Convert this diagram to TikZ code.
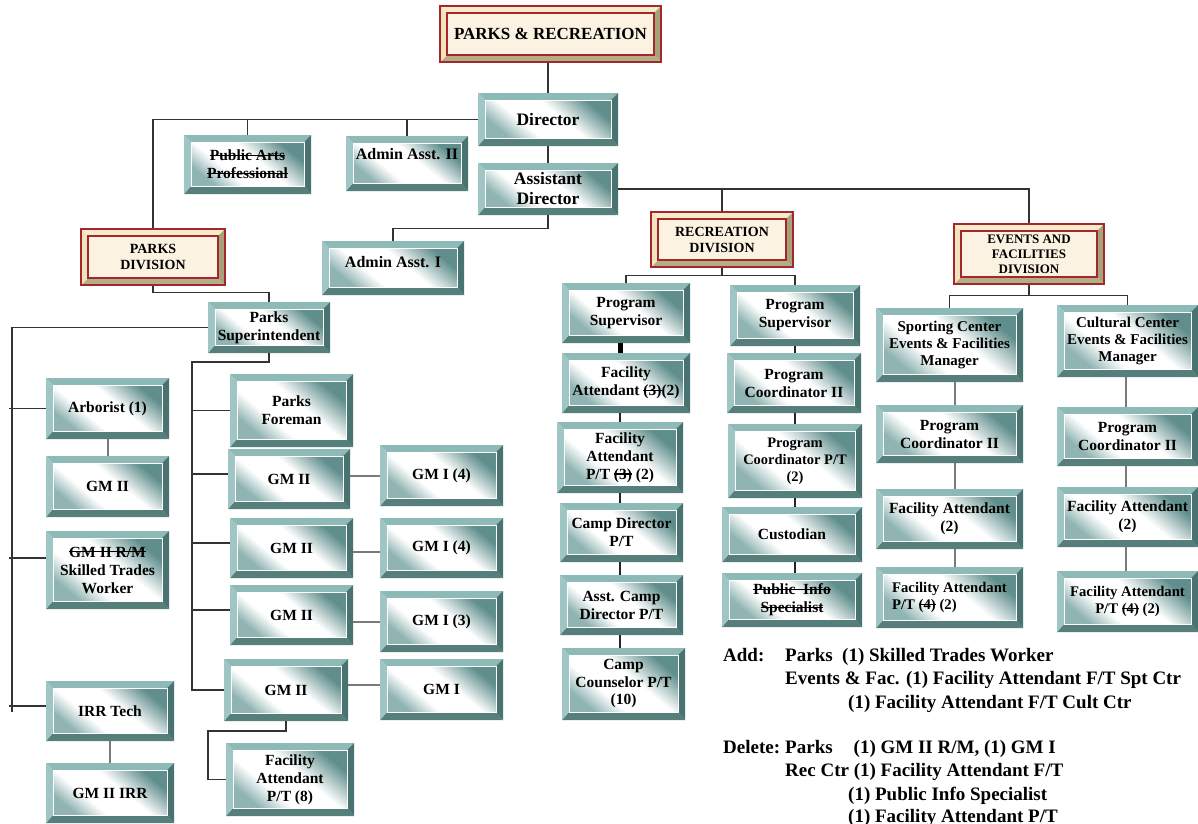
\documentclass[tikz,border=0pt]{standalone}
\usepackage{fontspec}
\setmainfont{Liberation Serif}
\usetikzlibrary{calc}

% struck-through text
\newsavebox\strkbox
\newcommand\strk[1]{\sbox\strkbox{#1}\rlap{\rule[0.3em]{\wd\strkbox}{1.1pt}}\usebox\strkbox}

% bevelled staff boxes
\definecolor{bvTopC}{HTML}{8DB9B7}
\definecolor{bvLeftC}{HTML}{9FC6C4}
\definecolor{bvRightC}{HTML}{497370}
\definecolor{bvBotC}{HTML}{567F7C}
\definecolor{faceDark}{HTML}{5F8E8C}
\definecolor{faceLight}{HTML}{8FB4B2}
% division title boxes
\definecolor{dvRed}{HTML}{A3272B}
\definecolor{dvTop}{HTML}{F7EBCB}
\definecolor{dvLeft}{HTML}{F2E3BD}
\definecolor{dvRight}{HTML}{A6A37C}
\definecolor{dvBot}{HTML}{B4AE88}
\definecolor{dvFace}{HTML}{FCF2E1}
\definecolor{lineC}{HTML}{333333}
\definecolor{stubC}{HTML}{7A7A7A}

% face of a staff box: teal corners, broad white middle
\pgfdeclareverticalshading{staffface}{100bp}{%
  color(0bp)=(faceLight); color(25bp)=(faceLight);
  color(38bp)=(white); color(56bp)=(white);
  color(75bp)=(faceDark); color(100bp)=(faceDark)}

\newcommand\fs[2]{\fontsize{#1}{#2}\selectfont\bfseries}

% corner coordinates of the current node and of its inner face
\newcommand\bevelcorners[2]{%
  \coordinate (bSW) at (path picture bounding box.south west);
  \coordinate (bNE) at (path picture bounding box.north east);
  \coordinate (bNW) at (bSW |- bNE);
  \coordinate (bSE) at (bNE |- bSW);
  \coordinate (iSW) at ([shift={(#1,#2)}]bSW);
  \coordinate (iNE) at ([shift={(-#1,-#1)}]bNE);
  \coordinate (iNW) at (iSW |- iNE);
  \coordinate (iSE) at (iNE |- iSW);
}
\newcommand\bevelfaces[4]{%
  \fill[#1] (bNW) -- (bNE) -- (iNE) -- (iNW) -- cycle;
  \fill[#4] (bSW) -- (bSE) -- (iSE) -- (iSW) -- cycle;
  \fill[#2] (bSW) -- (bNW) -- (iNW) -- (iSW) -- cycle;
  \fill[#3] (bSE) -- (bNE) -- (iNE) -- (iSE) -- cycle;
}
\newcommand\staffbevel{%
  \bevelcorners{7pt}{8pt}%
  \bevelfaces{bvTopC}{bvLeftC}{bvRightC}{bvBotC}%
  \shade[shading=staffface, shading angle=-40] (iSW) rectangle (iNE);
  \draw[white, line width=0.9pt] (iSW) rectangle (iNE);
}
\newcommand\divbevel{%
  \bevelcorners{7pt}{7pt}%
  \bevelfaces{dvTop}{dvLeft}{dvRight}{dvBot}%
  \fill[dvFace] (iSW) rectangle (iNE);
  \draw[dvRed, line width=1.3pt] (iSW) rectangle (iNE);
}

\tikzset{
  staff/.style={rectangle, inner sep=0pt, align=center, font=\fs{15.5}{18},
                path picture={\staffbevel}},
  divbox/.style={rectangle, inner sep=0pt, align=center, font=\fs{14}{16},
                 draw=dvRed, line width=1.3pt, path picture={\divbevel}},
  sz/.style 2 args={minimum width=#1pt, minimum height=#2pt},
  conn/.style={draw=lineC, line width=1.3pt},
  stub/.style={draw=stubC, line width=2pt},
  thinstub/.style={draw=black!85, line width=1.3pt},
  note/.style={anchor=base west, inner sep=0pt, font=\fs{19}{22}},
}

\begin{document}
\begin{tikzpicture}[x=1pt,y=-1pt]
\useasboundingbox[fill=white] (0,0) rectangle (1198,823);

% ---------- top of the department ----------
\node[divbox, sz={221}{56}, font=\fs{17}{20}] (title) at (550.5,34) {PARKS \& RECREATION};
\node[staff, sz={140}{53}, font=\fs{17.5}{20}] (dir) at (548,119.5) {Director};
\node[staff, sz={127}{59}] (pap) at (247.5,164.5) {\strk{Public Arts}\\\strk{Professional}};
\node[staff, sz={122}{55}, font=\fs{16}{18}] (aa2) at (407,163.5) {Admin Asst. II\\[2pt]\mbox{}};
\node[staff, sz={140}{52}, font=\fs{17.5}{20}] (ad) at (548,189) {Assistant\\Director};
\node[staff, sz={142}{54}, font=\fs{16}{18}] (aa1) at (393,268) {Admin Asst. I\\[-6pt]\mbox{}};

\node[divbox, sz={144}{56}] (pdiv) at (153,257) {PARKS\\DIVISION};
\node[divbox, sz={142}{55}] (rdiv) at (722,239.5) {RECREATION\\DIVISION};
\node[divbox, sz={150}{60}, font=\fs{13}{15}] (edv) at (1029,254) {EVENTS AND\\FACILITIES\\DIVISION};

% ---------- parks division ----------
\node[staff, sz={122}{51}] (psup) at (269,327.5) {Parks\\Superintendent};

\node[staff, sz={123}{61}] (arb) at (107.5,408.5) {Arborist (1)};
\node[staff, sz={123}{61}] (gm2a) at (107.5,486.5) {GM II};
\node[staff, sz={123}{78}] (stw) at (107.5,570) {\strk{GM II R/M}\\Skilled Trades\\Worker};
\node[staff, sz={128}{60}] (irr) at (110,711) {IRR Tech};
\node[staff, sz={128}{60}] (gmirr) at (110,793) {GM II IRR};

\node[staff, sz={123}{73}] (pf) at (291.5,410.5) {Parks\\Foreman};
\node[staff, sz={122}{60}] (g1) at (289,479) {GM II};
\node[staff, sz={123}{61}] (gi1) at (441.5,475.5) {GM I (4)};
\node[staff, sz={123}{60}] (g2) at (291.5,548) {GM II};
\node[staff, sz={123}{60}] (gi2) at (441.5,548) {GM I (4)};
\node[staff, sz={123}{60}] (g3) at (291.5,615) {GM II};
\node[staff, sz={123}{61}] (gi3) at (441.5,621.5) {GM I (3)};
\node[staff, sz={124}{62}] (g4) at (286,690) {GM II};
\node[staff, sz={123}{61}] (gi4) at (441.5,689.5) {GM I};
\node[staff, sz={128}{73}] (fa8) at (290,779.5) {Facility\\Attendant\\P/T (8)};

% ---------- recreation division ----------
\node[staff, sz={128}{60}] (ps1) at (626,313) {Program\\Supervisor};
\node[staff, sz={128}{60}] (fa32) at (626,383) {Facility\\Attendant \strk{(3)}(2)};
\node[staff, sz={126}{71}] (fapt) at (620,457.5) {Facility\\Attendant\\P/T \strk{(3)} (2)};
\node[staff, sz={123}{59}] (cdir) at (621.5,532.5) {Camp Director\\P/T};
\node[staff, sz={123}{60}] (acd) at (621.5,605) {Asst. Camp\\Director P/T};
\node[staff, sz={123}{72}, font=\fs{15.5}{17.5}] (cc) at (623.5,684) {Camp\\Counselor P/T\\(10)};

\node[staff, sz={130}{61}] (ps2) at (795,315.5) {Program\\Supervisor};
\node[staff, sz={134}{60}] (pc2) at (794,383) {Program\\Coordinator II};
\node[staff, sz={134}{74}, font=\fs{14.5}{17}] (pcpt) at (795,461) {Program\\Coordinator P/T\\(2)};
\node[staff, sz={140}{55}] (cust) at (792,534.5) {Custodian};
\node[staff, sz={140}{54}] (pis) at (792,600) {\strk{Public\ \ Info}\\\strk{Specialist}};

% ---------- events and facilities division ----------
\node[staff, sz={147}{74}, font=\fs{15}{17}] (spt) at (949.5,345) {Sporting Center\\Events \& Facilities\\Manager};
\node[staff, sz={147}{58}] (pcs) at (949.5,434) {Program\\Coordinator II};
\node[staff, sz={147}{60}] (fas) at (949.5,519) {Facility Attendant\\(2)};
\node[staff, sz={147}{61}, font=\fs{14.7}{17}, align=left] (fps) at (949.5,597.5) {Facility Attendant\\P/T \strk{(4)} (2)};

\node[staff, sz={141}{72}, font=\fs{15}{17}] (cul) at (1127.5,341) {Cultural Center\\Events \& Facilities\\Manager};
\node[staff, sz={141}{59}] (pcc) at (1127.5,436.5) {Program\\Coordinator II};
\node[staff, sz={141}{60}] (fac) at (1127.5,517) {Facility Attendant\\(2)};
\node[staff, sz={141}{61}, font=\fs{14.7}{17}] (fpc) at (1127.5,601.5) {Facility Attendant\\P/T \strk{(4)} (2)};

% ---------- reporting lines ----------
\draw[conn] (dir.north) -- (dir.north |- title.south);
\draw[conn] (dir.west) -| (pdiv.north);
\draw[conn] (pap.north) -- (pap.north |- dir.west);
\draw[conn] (aa2.north) -- (aa2.north |- dir.west);
\draw[conn] (dir.south) -- (ad.north);
\draw[conn] (ad.east) -| (edv.north);
\draw[conn] (rdiv.north) -- (rdiv.north |- ad.east);
\draw[conn] (ad.south) -- ++(0,13) -| (aa1.north);
\draw[conn] (pdiv.south) -- ++(0,7) -| (psup.north);

% parks: left branch
\coordinate (lbot) at (12,712);
\draw[conn] (psup.west) -| (lbot);
\draw[conn] (arb.west) -- ++(-37,0);
\draw[conn] ([yshift=12pt]stw.west) -- ++(-37,0);
\draw[conn] ([yshift=5pt]irr.west) -- ++(-37,0);
\draw[stub] (arb.south) -- (gm2a.north);
\draw[stub] (irr.south) -- (gmirr.north);

% parks: right branch
\coordinate (rb) at (192,362);
\draw[conn] (psup.south) |- (rb) -- (rb |- g4.west) -- (g4.west);
\draw[conn] (pf.west) -- (pf.west -| rb);
\draw[conn] ([yshift=5pt]g1.west) -- ([yshift=5pt]g1.west -| rb);
\draw[conn] ([yshift=5pt]g2.west) -- ([yshift=5pt]g2.west -| rb);
\draw[conn] ([yshift=5pt]g3.west) -- ([yshift=5pt]g3.west -| rb);
\draw[stub] (g1.east |- gi1.west) -- (gi1.west);
\draw[stub] ([yshift=-4pt]g2.east) -- ([yshift=-4pt]gi2.west);
\draw[stub] (g3.east |- gi3.west) -- (gi3.west);
\draw[stub] ([yshift=5pt]g4.east) -- ([yshift=5pt]g4.east -| gi4.west);
\coordinate (fb) at (208,731);
\draw[conn] (g4.south) |- (fb) |- (fa8.west);

% recreation
\draw[conn] (rdiv.south) -- ++(0,8) coordinate (rj);
\draw[conn] (ps1.north) |- (rj) -| (ps2.north);
\draw[draw=black, line width=5pt] (ps1.south -| fapt) -- (fa32.north -| fapt);
\draw[thinstub] (fa32.south -| fapt) -- (fapt.north);
\draw[thinstub] (fapt.south) -- (cdir.north -| fapt);
\draw[thinstub] (cdir.south -| fapt) -- (acd.north -| fapt);
\draw[thinstub] (acd.south -| fapt) -- (cc.north -| fapt);
\draw[thinstub] (ps2.south) -- (pc2.north -| ps2);
\draw[thinstub] (pc2.south -| ps2) -- (pcpt.north -| ps2);
\draw[thinstub] (pcpt.south -| ps2) -- (cust.north -| ps2);
\draw[thinstub, line width=2pt] (cust.south -| ps2) -- (pis.north -| ps2);

% events and facilities
\draw[conn] (edv.south) -- ++(0,11) coordinate (ej);
\draw[conn] (spt.north) |- (ej) -| (cul.north);
\draw[stub] ([xshift=5pt]spt.south) -- ([xshift=5pt]pcs.north);
\draw[stub] ([xshift=5pt]pcs.south) -- ([xshift=5pt]fas.north);
\draw[stub] ([xshift=5pt]fas.south) -- ([xshift=5pt]fas.south |- fps.north);
\draw[stub] ([xshift=-2pt]cul.south) -- ([xshift=-2pt]pcc.north);
\draw[stub] ([xshift=-2pt]pcc.south) -- ([xshift=-2pt]fac.north);
\draw[stub] ([xshift=-2pt]fac.south) -- ([xshift=-2pt]fpc.north);

% ---------- staffing changes ----------
\node[note] (nAdd) at (723,661) {Add:};
\node[note] (nAdd1) at (785,661) {Parks\ \ (1) Skilled Trades Worker};
\node[note] (nAdd2) at (785,684) {Events \& Fac. (1) Facility Attendant F/T Spt Ctr};
\node[note] (nAdd3) at (848,708) {(1) Facility Attendant F/T Cult Ctr};
\node[note] (nDel) at (723,753) {Delete:};
\node[note] (nDel1) at (785,753) {Parks\hspace{21pt}(1) GM II R/M, (1) GM I};
\node[note] (nDel2) at (785,776) {Rec Ctr (1) Facility Attendant F/T};
\node[note] (nDel3) at (848,800) {(1) Public Info Specialist};
\node[note] (nDel4) at (848,822) {(1) Facility Attendant P/T};
\end{tikzpicture}
\end{document}
